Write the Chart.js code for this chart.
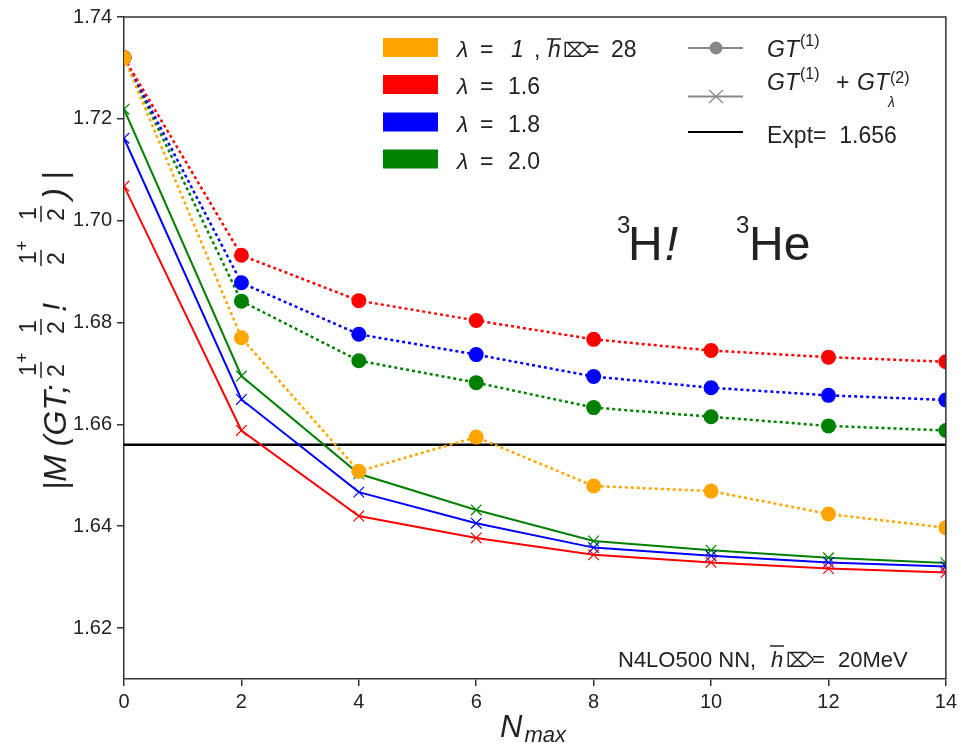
<!DOCTYPE html>
<html>
<head>
<meta charset="utf-8">
<script src="https://cdn.jsdelivr.net/npm/chart.js@4.4.1/dist/chart.umd.min.js"></script>
<style>
  body { margin: 0; background: #fff; }
</style>
</head>
<body>
<canvas id="grafico" width="961" height="745"></canvas>
<script>
const nmax = [0, 2, 4, 6, 8, 10, 12, 14];

// GT(1), pontos com linha pontilhada
const gt1Lam10 = [1.732, 1.6770, 1.6508, 1.6575, 1.6479, 1.6469, 1.6424, 1.6397];
const gt1Lam16 = [1.732, 1.6932, 1.6843, 1.6804, 1.6767, 1.6745, 1.6732, 1.6723];
const gt1Lam18 = [1.732, 1.6878, 1.6777, 1.6737, 1.6694, 1.6672, 1.6657, 1.6648];
const gt1Lam20 = [1.732, 1.6842, 1.6725, 1.6682, 1.6633, 1.6615, 1.6597, 1.6588];

// GT(1) + GT(2), cruzes com linha cheia
const gt12Lam16 = [1.7068, 1.6588, 1.6420, 1.6377, 1.6344, 1.6329, 1.6317, 1.6309];
const gt12Lam18 = [1.7162, 1.6649, 1.6467, 1.6406, 1.6358, 1.6342, 1.6329, 1.6321];
const gt12Lam20 = [1.7219, 1.6695, 1.6503, 1.6432, 1.6371, 1.6353, 1.6338, 1.6328];

const expt = 1.656;

const xTicks = [0, 2, 4, 6, 8, 10, 12, 14];
const yTicks = [1.62, 1.64, 1.66, 1.68, 1.70, 1.72, 1.74];

const fonte = '"Liberation Sans", "DejaVu Sans", Arial, sans-serif';
const cinza = '#333333';

function pontos(valores) {
    return valores.map((v, i) => ({ x: nmax[i], y: v }));
}

function serieGT1(valores, cor) {
    return {
        data: pontos(valores),
        borderColor: cor,
        backgroundColor: cor,
        borderWidth: 2.5,
        borderDash: [3, 3],
        pointStyle: 'circle',
        pointRadius: 7.5,
        pointBorderWidth: 0,
        pointBackgroundColor: cor,
        clip: 0
    };
}

function serieGT12(valores, cor) {
    return {
        data: pontos(valores),
        borderColor: cor,
        backgroundColor: cor,
        borderWidth: 2,
        pointStyle: 'crossRot',
        pointRadius: 7.5,
        pointBorderWidth: 1.2,
        pointBorderColor: cor,
        clip: 0
    };
}

function texto(ctx, t, x, y, tam, italico) {
    ctx.font = (italico ? 'italic ' : '') + tam + 'px ' + fonte;
    ctx.fillText(t, x, y);
    return x + ctx.measureText(t).width;
}

function hBarra(ctx, x, y, w) {
    ctx.save();
    ctx.strokeStyle = '#222';
    ctx.lineWidth = 1.5;
    ctx.beginPath();
    ctx.moveTo(x, y);
    ctx.lineTo(x + w, y);
    ctx.stroke();
    ctx.restore();
}

function fracao(ctx, x, mais) {
    // fração 1/2 desenhada no eixo girado (linha de base em y = 0)
    texto(ctx, '1', x + 2, -30, 23, false);
    if (mais) texto(ctx, '+', x + 15, -38, 18, false);
    ctx.save();
    ctx.strokeStyle = '#222';
    ctx.lineWidth = 1.5;
    ctx.beginPath();
    ctx.moveTo(x, -25);
    ctx.lineTo(x + 16, -25);
    ctx.stroke();
    ctx.restore();
    texto(ctx, '2', x + 1, -2, 23, false);
}

const anotacoes = {
    id: 'anotacoes',
    afterDraw(chart) {
        const ctx = chart.ctx;
        const a = chart.chartArea;
        ctx.save();

        // moldura superior e direita
        ctx.strokeStyle = cinza;
        ctx.lineWidth = 1.5;
        ctx.beginPath();
        ctx.moveTo(a.left, a.top);
        ctx.lineTo(a.right, a.top);
        ctx.lineTo(a.right, a.bottom);
        ctx.stroke();

        ctx.fillStyle = '#222';
        ctx.textBaseline = 'alphabetic';

        // legenda de cores
        const cores = ['#ffa500', '#ff0000', '#0000ff', '#008000'];
        const topos = [38, 75, 112.5, 149.5];
        const bases = [57, 94, 131.5, 168.5];
        cores.forEach((c, i) => {
            ctx.fillStyle = c;
            ctx.fillRect(383, topos[i], 55, 19);
        });
        ctx.fillStyle = '#222';
        texto(ctx, 'λ', 457, bases[0], 23, true);
        texto(ctx, '=', 480, bases[0], 23, false);
        texto(ctx, '1', 511, bases[0], 23, true);
        texto(ctx, ',', 534, bases[0], 23, false);
        texto(ctx, 'h', 548, bases[0], 23, true);
        hBarra(ctx, 547, 39, 14);
        texto(ctx, '⌦', 563, bases[0], 20, false);
        texto(ctx, '=', 586, bases[0], 23, false);
        texto(ctx, '28', 611, bases[0], 23, false);
        const lambdas = ['1.6', '1.8', '2.0'];
        lambdas.forEach((l, i) => {
            texto(ctx, 'λ', 457, bases[i + 1], 23, true);
            texto(ctx, '=', 480, bases[i + 1], 23, false);
            texto(ctx, l, 508, bases[i + 1], 23, false);
        });

        // legenda de estilos
        ctx.strokeStyle = '#888';
        ctx.lineWidth = 2;
        [48, 96.5].forEach(y => {
            ctx.beginPath();
            ctx.moveTo(688, y);
            ctx.lineTo(743, y);
            ctx.stroke();
        });
        ctx.fillStyle = '#888';
        ctx.beginPath();
        ctx.arc(716, 48, 6.5, 0, Math.PI * 2);
        ctx.fill();
        ctx.lineWidth = 1.2;
        ctx.beginPath();
        ctx.moveTo(709, 90);
        ctx.lineTo(723, 103);
        ctx.moveTo(723, 90);
        ctx.lineTo(709, 103);
        ctx.stroke();
        ctx.strokeStyle = '#000';
        ctx.lineWidth = 2;
        ctx.beginPath();
        ctx.moveTo(688, 132);
        ctx.lineTo(743, 132);
        ctx.stroke();

        ctx.fillStyle = '#222';
        let x = texto(ctx, 'GT', 767, 57, 23, true);
        texto(ctx, '(1)', x + 1, 46, 16, false);
        x = texto(ctx, 'GT', 767, 90, 23, true);
        texto(ctx, '(1)', x + 1, 79, 16, false);
        texto(ctx, '+', 836, 90, 23, false);
        x = texto(ctx, 'GT', 857, 90, 23, true);
        texto(ctx, '(2)', x + 1, 83, 16, false);
        texto(ctx, 'λ', x - 1, 107, 14, true);
        texto(ctx, 'Expt=  1.656', 767, 143, 23, false);

        // reação
        texto(ctx, '3', 617, 233, 24, false);
        x = texto(ctx, 'H', 628, 260, 48, false);
        texto(ctx, '!', x + 2, 260, 48, true);
        texto(ctx, '3', 736, 233, 24, false);
        texto(ctx, 'He', 749, 260, 48, false);

        // interação
        texto(ctx, 'N4LO500 NN,', 618, 667, 22, false);
        texto(ctx, 'h', 771, 667, 22, true);
        hBarra(ctx, 770, 646, 14);
        texto(ctx, '⌦', 786, 667, 20, false);
        texto(ctx, '=', 812, 667, 22, false);
        texto(ctx, '20MeV', 838, 667, 22, false);

        // título do eixo x
        x = texto(ctx, 'N', 500, 737, 31, true);
        texto(ctx, 'max', x + 2, 742, 22, true);

        // título do eixo y (girado)
        ctx.save();
        ctx.translate(66, 490);
        ctx.rotate(-Math.PI / 2);
        texto(ctx, '|M (GT;', 0, 0, 32, true);
        fracao(ctx, 112, true);
        fracao(ctx, 155, false);
        texto(ctx, '!', 178, 0, 33, true);
        fracao(ctx, 224, true);
        fracao(ctx, 268, false);
        texto(ctx, ')', 291, 0, 33, true);
        texto(ctx, '|', 310, 0, 33, true);
        ctx.restore();

        ctx.restore();
    }
};

const config = {
    type: 'line',
    data: {
        datasets: [
            serieGT1(gt1Lam10, '#ffa500'),
            serieGT1(gt1Lam16, '#ff0000'),
            serieGT1(gt1Lam18, '#0000ff'),
            serieGT1(gt1Lam20, '#008000'),
            serieGT12(gt12Lam16, '#ff0000'),
            serieGT12(gt12Lam18, '#0000ff'),
            serieGT12(gt12Lam20, '#008000'),
            {
                data: [{ x: nmax[0], y: expt }, { x: nmax[nmax.length - 1], y: expt }],
                borderColor: '#000',
                borderWidth: 2.5,
                pointRadius: 0,
                clip: 0
            }
        ]
    },
    options: {
        responsive: false,
        animation: false,
        layout: { padding: { left: 0, right: 15, top: 13, bottom: 0 } },
        plugins: {
            legend: { display: false },
            tooltip: { enabled: false }
        },
        scales: {
            x: {
                type: 'linear',
                min: 0,
                max: 14,
                afterBuildTicks: s => { s.ticks = xTicks.map(v => ({ value: v })); },
                afterFit: s => { s.height = 66; },
                ticks: { color: '#222', font: { family: fonte, size: 20 }, padding: 4 },
                grid: { drawOnChartArea: false, tickLength: 7, color: cinza, lineWidth: 1.5 },
                border: { color: cinza, width: 1.5 }
            },
            y: {
                min: 1.61,
                max: 1.74,
                afterBuildTicks: s => { s.ticks = yTicks.map(v => ({ value: v })); },
                afterFit: s => { s.width = 124; },
                ticks: {
                    color: '#222',
                    font: { family: fonte, size: 20 },
                    padding: 5,
                    callback: v => v.toFixed(2)
                },
                grid: { drawOnChartArea: false, tickLength: 7, color: cinza, lineWidth: 1.5 },
                border: { color: cinza, width: 1.5 }
            }
        }
    },
    plugins: [anotacoes]
};

let grafico = new Chart(document.getElementById('grafico'), config);
</script>
</body>
</html>
